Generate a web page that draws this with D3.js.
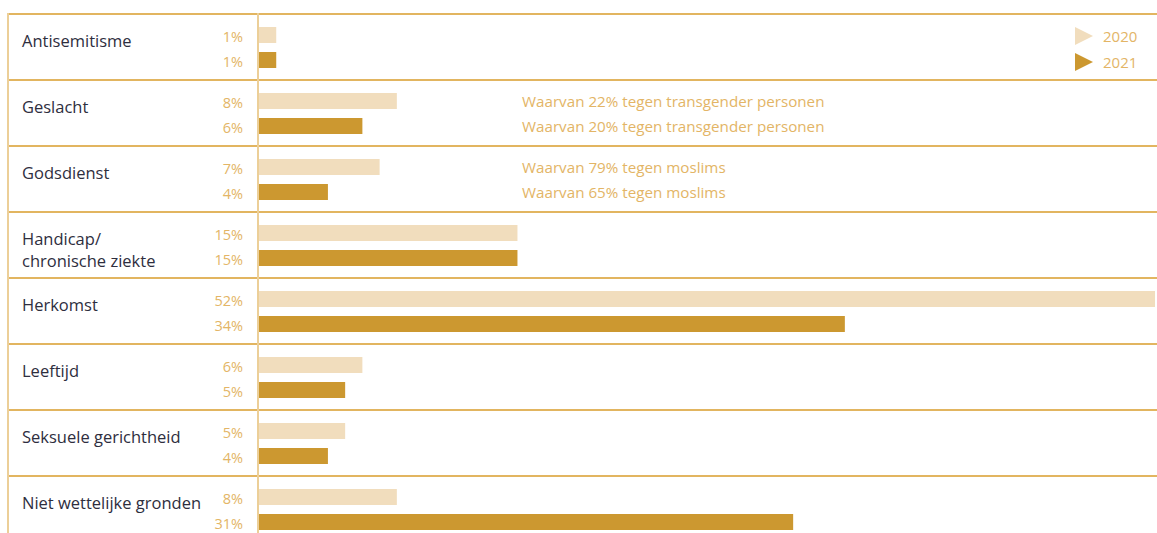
<!DOCTYPE html>
<html>
<head>
<meta charset="utf-8">
<script src="https://cdn.jsdelivr.net/npm/d3@7"></script>
<style>
  html, body { margin: 0; padding: 0; background: #fff; }
  svg { display: block; font-family: "Open Sans", "Noto Sans", sans-serif; }
</style>
</head>
<body>
<svg id="chart" width="1157" height="533"></svg>
<script>
const categories = ["Antisemitisme", "Geslacht", "Godsdienst", "Handicap/\nchronische ziekte", "Herkomst", "Leeftijd", "Seksuele gerichtheid", "Niet wettelijke gronden"];
const years = ["2020", "2021"];
const values2020 = [1, 8, 7, 15, 52, 6, 5, 8];
const values2021 = [1, 6, 4, 15, 34, 5, 4, 31];
const notes2020 = ["", "Waarvan 22% tegen transgender personen", "Waarvan 79% tegen moslims", "", "", "", "", ""];
const notes2021 = ["", "Waarvan 20% tegen transgender personen", "Waarvan 65% tegen moslims", "", "", "", "", ""];

const colors = { "2020": "#f1ddbd", "2021": "#cc9830" };
const lineColor = "#e2b560";
const valueColor = "#e3b566";
const labelColor = "#2e2e3e";

const svg = d3.select("#chart");
const W = 1157;

const y = d3.scaleBand().domain(categories).range([14, 14 + 66 * categories.length]);
const yi = d3.scaleBand().domain(years).range([13, 54]).paddingInner(0.36);
const x = d3.scaleLinear().domain([0, 52]).range([259, 1155]);

const rows = categories.map((c, i) => ({
  cat: c,
  vals: [
    { year: "2020", v: values2020[i], note: notes2020[i] },
    { year: "2021", v: values2021[i], note: notes2021[i] }
  ]
}));

// separator lines
svg.append("g").selectAll("line").data(categories).join("line")
  .attr("x1", 8).attr("x2", W)
  .attr("y1", d => y(d)).attr("y2", d => y(d))
  .attr("stroke", lineColor).attr("stroke-width", 2);

// left border
svg.append("line").attr("x1", 8).attr("x2", 8).attr("y1", 13).attr("y2", 533)
  .attr("stroke", "#eccf98").attr("stroke-width", 2);
// axis line
svg.append("line").attr("x1", x(0) - 1).attr("x2", x(0) - 1).attr("y1", 13).attr("y2", 533)
  .attr("stroke", "#eccf98").attr("stroke-width", 2);

const g = svg.append("g").selectAll("g").data(rows).join("g")
  .attr("transform", d => `translate(0,${y(d.cat)})`);

// category labels
g.append("text")
  .attr("x", 22)
  .attr("fill", labelColor)
  .style("font-size", "16.5px")
  .each(function(d) {
    const lines = d.cat.split("\n");
    d3.select(this).selectAll("tspan").data(lines).join("tspan")
      .attr("x", 22)
      .attr("y", (l, j) => 33 + j * 22)
      .text(l => l);
  });

// bars
g.selectAll("rect").data(d => d.vals).join("rect")
  .attr("x", x(0))
  .attr("y", d => yi(d.year))
  .attr("width", d => x(d.v) - x(0))
  .attr("height", yi.bandwidth())
  .attr("fill", d => colors[d.year]);

// value labels
g.selectAll("text.val").data(d => d.vals).join("text")
  .attr("class", "val")
  .attr("x", 243)
  .attr("y", d => yi(d.year) + yi.bandwidth() / 2 + 2)
  .attr("dy", "0.35em")
  .attr("text-anchor", "end")
  .attr("fill", valueColor)
  .style("font-size", "14.5px")
  .text(d => d.v + "%");

// notes
g.selectAll("text.note").data(d => d.vals.filter(v => v.note)).join("text")
  .attr("class", "note")
  .attr("x", 522)
  .attr("y", d => yi(d.year) + yi.bandwidth() / 2 + 1)
  .attr("dy", "0.35em")
  .attr("fill", valueColor)
  .style("font-size", "15.2px")
  .text(d => d.note);

// legend
const lg = svg.append("g").selectAll("g").data(years).join("g")
  .attr("transform", (d, i) => `translate(1075,${27 + i * 26})`);
lg.append("path").attr("d", "M0,0L18,9L0,18Z").attr("fill", d => colors[d]);
lg.append("text").attr("x", 28).attr("y", 10).attr("dy", "0.35em")
  .attr("fill", valueColor).style("font-size", "15px").text(d => d);
</script>
</body>
</html>
